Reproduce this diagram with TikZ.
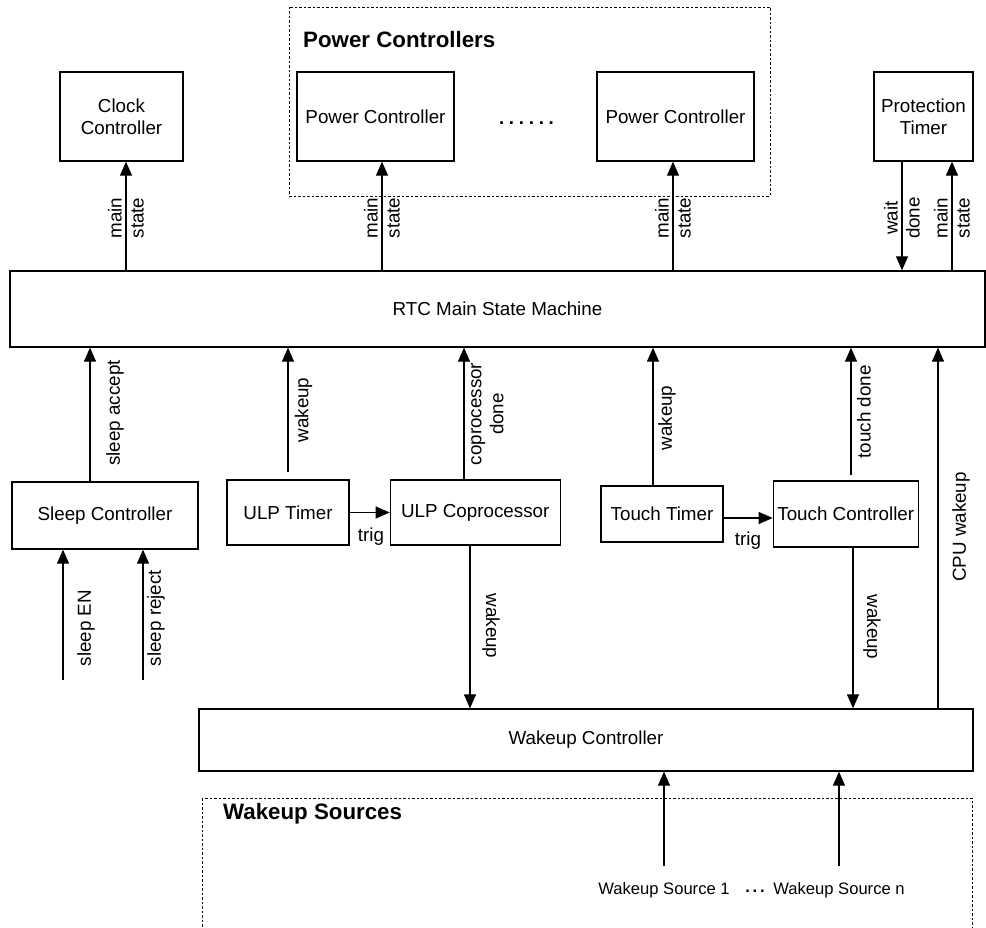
\documentclass[tikz,border=0pt]{standalone}
\usepackage{fontspec}
\setmainfont{Liberation Sans}
\usetikzlibrary{arrows.meta,positioning}
\newcommand{\lab}{\fontsize{18.8}{22}\selectfont}
\newcommand{\ttl}{\fontsize{22.3}{26}\selectfont\bfseries}
\newcommand{\srcf}{\fontsize{16.6}{20}\selectfont}

\begin{document}
\begin{tikzpicture}[x=1pt,y=-1pt,>={Triangle[width=12pt,length=14pt]},every node/.style={font=\lab},
  blk/.style={draw,line width=1.3pt,align=center,inner sep=0pt},
  tag/.style={rotate=90,align=center,inner sep=0pt},
  tagd/.style={rotate=-90,align=center,inner sep=0pt},
  sig/.style={->,line width=1.2pt},
  grp/.style={draw,line width=0.8pt,dash pattern=on 2.5pt off 2pt}]
\useasboundingbox (0,0) rectangle (986,928);
% dashed groups
\draw[grp] (289,7) rectangle (770,196);
\draw[grp] (202,798) rectangle (972,960);
\node[anchor=west,inner sep=0pt,font=\ttl] (pctitle) at (303,40) {Power Controllers};
\node[anchor=west,inner sep=0pt,font=\ttl] (wstitle) at (223,814) {Wakeup Sources};
% top row
\node[blk,minimum width=123pt,minimum height=89pt] (clk) at (121.5,116.5) {Clock\\Controller};
\node[blk,minimum width=157pt,minimum height=89pt] (pc1) at (375.5,116.5) {Power Controller};
\node[blk,minimum width=157pt,minimum height=89pt] (pc2) at (675.5,116.5) {Power Controller};
\node[inner sep=0pt,font=\lab\bfseries] (pdots) at (526.5,123.5) {.\hspace{4.7pt}.\hspace{4.7pt}.\hspace{4.7pt}.\hspace{4.7pt}.\hspace{4.7pt}.};
\node[blk,minimum width=99pt,minimum height=89pt] (prot) at (923.5,116.5) {Protection\\Timer};
\node[blk,minimum width=975pt,minimum height=76pt] (rtc) at (497.5,309) {RTC Main State Machine};
% middle row
\node[blk,minimum width=186pt,minimum height=67pt] (slp) at (105,515.5) {Sleep Controller};
\node[blk,minimum width=122pt,minimum height=65pt] (ulpt) at (288,512.5) {ULP Timer};
\node[blk,minimum width=170pt,minimum height=65pt,right=40pt of ulpt] (ulpc) {ULP Coprocessor};
\node[blk,minimum width=122pt,minimum height=56pt] (tt) at (662,514) {Touch Timer};
\node[blk,minimum width=145pt,minimum height=66pt,right=49pt of tt] (tc) {Touch Controller};
\node[blk,minimum width=774pt,minimum height=62pt] (wkc) at (586,740) {Wakeup Controller};
% sources
\node[font=\srcf,inner sep=0pt] (src1) at (664,890) {Wakeup Source 1};
\node[font=\srcf\bfseries,inner sep=0pt] (sdots) at (755,891) {.\,.\,.};
\node[font=\srcf,inner sep=0pt] (srcn) at (839,890) {Wakeup Source n};
\coordinate (en) at (63,680);
\coordinate (rej) at (143,680);
% signals up top
\draw[sig] (rtc.north -| 126,0) -- (clk.south -| 126,0);
\draw[sig] (rtc.north -| 382,0) -- (pc1.south -| 382,0);
\draw[sig] (rtc.north -| 673,0) -- (pc2.south -| 673,0);
\draw[sig] (prot.south -| 902,0) -- (rtc.north -| 902,0);
\draw[sig] (rtc.north -| 952,0) -- (prot.south -| 952,0);
\node[tag] (l1) at (126,218) {main\\state};
\node[tag] (l2) at (382,218) {main\\state};
\node[tag] (l3) at (673,218) {main\\state};
\node[tag] (l4) at (902,218) {wait\\done};
\node[tag] (l5) at (952,218) {main\\state};
% signals below
\draw[sig] (slp.north -| 90,0) -- (rtc.south -| 90,0);
\draw[sig] (en) -- (slp.south -| en);
\draw[sig] (rej) -- (slp.south -| rej);
\draw[sig] ([yshift=7pt]ulpt.north) -- (rtc.south -| ulpt);
\draw[sig] (ulpt.east) -- (ulpt.east -| ulpc.west);
\draw[sig] (ulpc.north -| 464,0) -- (rtc.south -| 464,0);
\draw[sig] (ulpc.south -| 470,0) -- (wkc.north -| 470,0);
\draw[sig] (tt.north -| 653,0) -- (rtc.south -| 653,0);
\draw[sig] ([yshift=-4pt]tt.east) -- ([yshift=-4pt]tc.west);
\draw[sig] (tc.north -| 851,0) ++(0,-5) -- (rtc.south -| 851,0);
\draw[sig] (tc.south -| 853,0) -- (wkc.north -| 853,0);
\draw[sig] (wkc.north -| 938,0) -- (rtc.south -| 938,0);
\draw[sig,shorten <=16pt] (src1.north) -- (wkc.south -| src1);
\draw[sig,shorten <=16pt] (srcn.north) -- (wkc.south -| srcn);
\node[tag] (l6) at (115,413) {sleep accept};
\node[tag] (l7) at (86,628) {sleep EN};
\node[tag] (l8) at (156,618) {sleep reject};
\node[tag] (l9) at (303.5,410) {wakeup};
\node[tag] (l10) at (487.5,414) {coprocessor\\done};
\node[inner sep=0pt] (l11) at (371,537) {trig};
\node[tagd] (l12) at (491,626) {wakeup};
\node[tag] (l13) at (667,418) {wakeup};
\node[inner sep=0pt] (l14) at (748,541) {trig};
\node[tag] (l15) at (864,412) {touch done};
\node[tagd] (l16) at (872,627) {wakeup};
\node[tag] (l17) at (961,527) {CPU wakeup};
\end{tikzpicture}
\end{document}
